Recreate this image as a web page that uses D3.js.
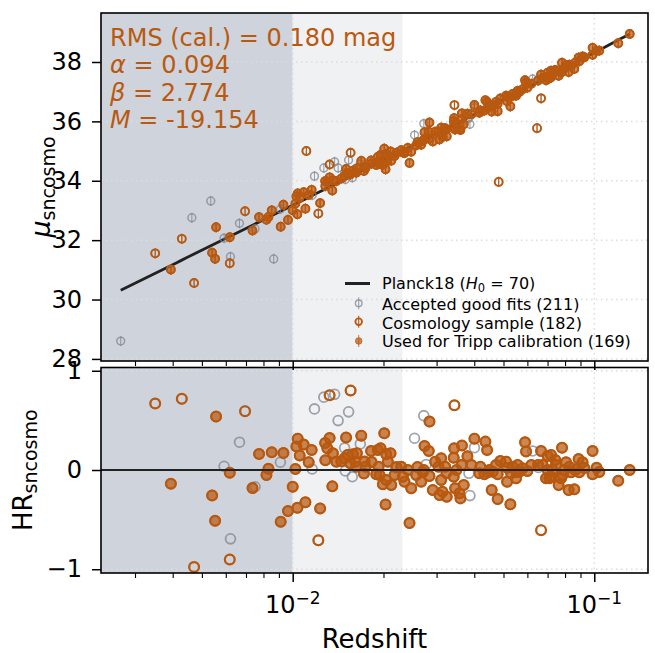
<!DOCTYPE html>
<html><head><meta charset="utf-8">
<script src="https://cdn.jsdelivr.net/npm/d3@7"></script>
<style>
body{margin:0;background:#fff}
svg{display:block}
text{font-family:"DejaVu Sans",sans-serif}
</style>
</head><body>
<svg id="c" width="655" height="653"></svg>
<script>
// ---------------- data ----------------
// SNe used for the Tripp calibration (filled orange)
const trippZ = [
 0.003945,0.005405,0.00553,0.005572,0.006185,0.007357,0.007736,0.008184,0.00831,0.00852,
 0.009125,0.009316,0.009647,0.01,0.010208,0.010286,0.010389,0.010548,0.010365,0.010875,
 0.011019,0.011299,0.012331,0.01281,0.013026,0.013257,0.012829,0.013533,0.013595,0.013951,
 0.014494,0.014863,0.015034,0.015524,0.015835,0.016127,0.016325,0.016251,0.016882,0.01722,
 0.017312,0.017445,0.018193,0.018929,0.019161,0.019264,0.019411,0.01956,0.019906,0.02012,
 0.02032,0.020428,0.020428,0.020679,0.021109,0.021222,0.021763,0.022903,0.023184,0.023487,
 0.024085,0.024399,0.024717,0.025677,0.026673,0.027001,0.027207,0.027353,0.028265,0.028416,
 0.028416,0.029139,0.029677,0.030432,0.031065,0.031065,0.030665,0.031375,0.032027,0.032421,
 0.034302,0.034197,0.034197,0.034565,0.035718,0.035991,0.036405,0.03635,0.036909,0.037965,
 0.040044,0.041918,0.0416,0.043215,0.043545,0.044113,0.044316,0.044893,0.045687,0.046037,
 0.047244,0.047824,0.047824,0.048819,0.051,0.051391,0.051391,0.052697,0.052979,0.05363,
 0.055038,0.055714,0.05644,0.057878,0.058946,0.059396,0.065103,0.066608,0.067426,0.069197,
 0.070045,0.070045,0.07096,0.071886,0.071886,0.072769,0.07468,0.076176,0.077582,0.078176,
 0.078533,0.080595,0.082206,0.083725,0.085855,0.082646,0.088716,0.089191,0.091461,0.098712,
 0.098712,0.10177,0.12007,0.13106,0.092654,0.074282,0.086514,0.061846,0.06,0.039149,
 0.034917,0.032347,0.025933,0.022097,0.018262,0.015207,0.011557,0.055164,0.07956,0.10389
];
const trippHR = [
 -0.138,-0.256,-0.512,0.538,-0.027,-0.182,0.162,-0.051,0.013,0.179,
 -0.522,0.172,-0.414,-0.169,0.010,0.237,0.316,0.146,-0.381,0.256,
 -0.326,0.079,-0.387,0.271,0.219,0.323,0.099,-0.165,0.169,0.084,
 0.089,0.118,0.328,0.068,0.159,0.084,0.169,0.033,0.346,-0.035,
 0.086,0.033,0.192,-0.043,0.202,0.033,-0.051,0.219,-0.144,0.371,
 -0.348,0.159,-0.101,0.084,0.169,-0.152,-0.051,0.033,-0.068,-0.118,
 0.000,-0.535,-0.185,-0.051,-0.118,-0.023,0.000,0.242,0.192,0.488,
 -0.061,-0.202,0.084,0.033,0.118,-0.101,-0.253,-0.219,0.033,-0.270,
 0.219,0.124,-0.068,-0.185,-0.235,-0.286,0.247,0.051,-0.152,0.139,
 0.316,0.033,-0.033,-0.043,0.286,0.202,-0.023,0.000,-0.202,-0.017,
 0.051,-0.043,-0.293,0.091,0.084,0.023,-0.118,-0.346,-0.033,0.033,
 -0.084,0.051,-0.017,0.017,0.280,0.187,0.051,0.192,0.051,-0.084,
 0.141,0.000,-0.084,0.152,-0.068,0.000,0.051,-0.152,-0.084,0.225,
 -0.051,0.078,-0.202,-0.023,-0.195,0.033,0.111,-0.023,0.078,0.192,
 -0.043,0.023,-0.108,0.000,0.020,0.101,0.000,0.051,-0.010,0.051,
 0.000,-0.030,0.030,0.030,0.081,0.152,0.202,-0.020,0.000,-0.020
];
// Cosmology sample SNe not used in the Tripp calibration (hollow orange)
const cosmoOnlyZ  = [0.0035,0.004289,0.006951,0.00471,0.006185,0.012163,0.013257,0.01556,0.034381,0.066608,0.0482,0.0111,0.0646];
const cosmoOnlyHR = [0.670,0.717,0.593,-0.977,-0.902,-0.709,0.753,0.801,0.652,-0.606,-2.69,1.60,-1.54];
// Accepted good fits that are not in the cosmology sample (hollow grey)
const goodOnlyZ = [
 0.005922,0.006218,0.006661,0.007502,0.009104,0.011602,0.011808,0.012683,0.013772,0.014145,
 0.015323,0.014863,0.014944,0.015762,0.016754,0.025348,0.027207,0.027711,0.038697,0.038403,
 0.040044,0.062462,0.065252,0.00269,0.00535,0.00463,0.00865,0.02198,0.08919
];
const goodOnlyHR = [
 0.037,-0.694,0.280,-0.169,0.078,0.010,0.616,0.734,0.763,0.498,
 0.586,0.222,-0.010,-0.068,0.263,0.320,0.548,0.056,-0.258,-0.033,
 0.225,0.192,0.025,-1.71,1.51,1.26,-1.49,0.02,0.04
];
const muErr = 0.17;               // typical distance-modulus uncertainty (mag)
const fitText = ["RMS (cal.) = 0.180 mag", ["α", " = 0.094"], ["β", " = 2.774"], ["M", " = -19.154"]];
const legendLabels = ["Planck18", "Accepted good fits (211)", "Cosmology sample (182)", "Used for Tripp calibration (169)"];
const muTicks = [28, 30, 32, 34, 36, 38];
const hrTicks = [-1, 0, 1];
const zMajor = [0.01, 0.1];
const zMajorLabels = ["−2", "−1"];
const calibRange = [0.01, 0.0231];   // light shaded band

// ---------------- cosmology model (Planck18-like, H0 = 70) ----------------
const H0 = 70, Om = 0.30966, cLight = 299792.458;
function muModel(z) {
  const n = 200, h = z / n; let s = 0;
  for (let i = 0; i <= n; i++) {
    const zz = i * h;
    const f = 1 / Math.sqrt(Om * Math.pow(1 + zz, 3) + (1 - Om));
    s += ((i === 0 || i === n) ? 1 : (i % 2 ? 4 : 2)) * f;
  }
  const dl = (1 + z) * cLight / H0 * (s * h / 3);
  return 5 * Math.log10(dl) + 25;
}

// ---------------- layout ----------------
const ORANGE = "#b9590f", GREY = "#7f8591", INK = "#222";
const L = 101, R = 648, T1 = 13, B1 = 361, T2 = 367.5, B2 = 573;
const svg = d3.select("#c");

const x = d3.scaleLog().domain([0.002314, 0.1507]).range([L, R]);
const y1 = d3.scaleLinear().domain([27.93, 39.65]).range([B1, T1]);
const y2 = d3.scaleLinear().domain([-1.038, 1.033]).range([B2, T2]);

const mk = (zs, hs) => zs.map((z, i) => ({z, hr: hs[i], mu: muModel(z) + hs[i]}));
const tripp = mk(trippZ, trippHR);
const cosmoOnly = mk(cosmoOnlyZ, cosmoOnlyHR);
const goodOnly = mk(goodOnlyZ, goodOnlyHR);
const cosmo = cosmoOnly.concat(tripp);
const good = goodOnly.concat(cosmo);

const defs = svg.append("defs");
defs.append("clipPath").attr("id", "cp1").append("rect").attr("x", L).attr("y", T1).attr("width", R - L).attr("height", B1 - T1);
defs.append("clipPath").attr("id", "cp2").append("rect").attr("x", L).attr("y", T2).attr("width", R - L).attr("height", B2 - T2);

function panelBase(T, B, y, ticks, clip) {
  const g = svg.append("g").attr("clip-path", `url(#${clip})`);
  g.append("rect").attr("x", L).attr("y", T).attr("width", x(0.01) - L).attr("height", B - T).attr("fill", "#cfd3db");
  g.append("rect").attr("x", x(calibRange[0])).attr("y", T).attr("width", x(calibRange[1]) - x(calibRange[0])).attr("height", B - T).attr("fill", "#f0f1f3");
  const gg = g.append("g").attr("stroke", "#dcdcdc").attr("stroke-width", 1.5).attr("stroke-dasharray", "1.5,3.5");
  ticks.forEach(t => gg.append("line").attr("x1", L).attr("x2", R).attr("y1", y(t)).attr("y2", y(t)));
  zMajor.forEach(t => gg.append("line").attr("x1", x(t)).attr("x2", x(t)).attr("y1", T).attr("y2", B));
  return g;
}

// ---------- top panel ----------
const g1 = panelBase(T1, B1, y1, muTicks, "cp1");
const zExt = d3.extent(good, d => d.z);
const curve = d3.range(0, 101).map(i => Math.pow(10, Math.log10(zExt[0]) + i / 100 * (Math.log10(zExt[1]) - Math.log10(zExt[0]))));
g1.append("path").datum(curve)
  .attr("d", d3.line().x(z => x(z)).y(z => y1(muModel(z))))
  .attr("fill", "none").attr("stroke", INK).attr("stroke-width", 2.8);

function errPts(g, data, col, r, sw, fill, op) {
  const s = g.append("g");
  s.selectAll("line").data(data).join("line")
    .attr("x1", d => x(d.z)).attr("x2", d => x(d.z))
    .attr("y1", d => y1(d.mu + muErr)).attr("y2", d => y1(d.mu - muErr))
    .attr("stroke", col).attr("stroke-width", 1.1).attr("opacity", op);
  s.selectAll("circle").data(data).join("circle")
    .attr("cx", d => x(d.z)).attr("cy", d => y1(d.mu)).attr("r", r)
    .attr("fill", fill ? col : "none").attr("fill-opacity", fill ? op : 0)
    .attr("stroke", col).attr("stroke-width", sw).attr("stroke-opacity", op);
}
errPts(g1, good, GREY, 3.9, 1.5, false, 0.75);
errPts(g1, cosmo, ORANGE, 4.0, 1.9, false, 1);
errPts(g1, tripp, ORANGE, 4.1, 1, true, 0.7);

// ---------- bottom panel ----------
const g2 = panelBase(T2, B2, y2, hrTicks, "cp2");
function hrPts(g, data, col, r, sw, fill, op) {
  g.append("g").selectAll("circle").data(data).join("circle")
    .attr("cx", d => x(d.z)).attr("cy", d => y2(d.hr)).attr("r", r)
    .attr("fill", fill ? col : "none").attr("fill-opacity", fill ? op : 0)
    .attr("stroke", col).attr("stroke-width", sw).attr("stroke-opacity", op);
}
hrPts(g2, good, GREY, 4.9, 1.8, false, 0.75);
hrPts(g2, cosmo, ORANGE, 4.9, 2.2, false, 1);
hrPts(g2, tripp, ORANGE, 5.1, 1, true, 0.72);
g2.append("line").attr("x1", L).attr("x2", R).attr("y1", y2(0)).attr("y2", y2(0))
  .attr("stroke", INK).attr("stroke-width", 2);

// ---------- axes ----------
const minor = [];
[0.001, 0.01, 0.1].forEach(b => { for (let k = 2; k <= 9; k++) { const v = b * k; if (v > x.domain()[0] && v < x.domain()[1]) minor.push(v); } });

function styleAxis(g) {
  g.select(".domain").remove();
  g.selectAll(".tick line").attr("stroke", "#000").attr("stroke-width", 1.5);
  g.selectAll(".tick text").attr("fill", "#000").attr("font-size", 24).attr("font-family", "DejaVu Sans");
}
[B1, B2].forEach(B => {
  svg.append("g").attr("transform", `translate(0,${B})`)
    .call(d3.axisBottom(x).tickValues(minor).tickSize(5).tickFormat("")).call(styleAxis)
    .selectAll(".tick line").attr("stroke-width", 1.1);
  svg.append("g").attr("transform", `translate(0,${B})`)
    .call(d3.axisBottom(x).tickValues(zMajor).tickSize(9).tickFormat("")).call(styleAxis);
});
// x tick labels 10^-2, 10^-1
zMajor.forEach((t, i) => {
  const tx = svg.append("text").attr("x", x(t)).attr("y", 612.5).attr("text-anchor", "middle").attr("font-size", 24);
  tx.append("tspan").text("10");
  tx.append("tspan").attr("font-size", 17).attr("dy", -8.5).text(zMajorLabels[i]);
});
svg.append("g").attr("transform", `translate(${L},0)`)
  .call(d3.axisLeft(y1).tickValues(muTicks).tickSize(9).tickPadding(10).tickFormat(d3.format("d"))).call(styleAxis);
svg.append("g").attr("transform", `translate(${L},0)`)
  .call(d3.axisLeft(y2).tickValues(hrTicks).tickSize(9).tickPadding(10).tickFormat(d => d < 0 ? "−" + Math.abs(d) : String(d))).call(styleAxis);

// frames
[[T1, B1], [T2, B2]].forEach(([T, B]) => svg.append("rect").attr("x", L).attr("y", T).attr("width", R - L).attr("height", B - T)
  .attr("fill", "none").attr("stroke", "#000").attr("stroke-width", 1.6));

// axis labels
svg.append("text").attr("x", (L + R) / 2).attr("y", 648).attr("text-anchor", "middle").attr("font-size", 26).text("Redshift");
const yl1 = svg.append("text").attr("transform", `translate(50,${(T1 + B1) / 2}) rotate(-90)`).attr("text-anchor", "middle").attr("font-size", 27);
yl1.append("tspan").attr("font-style", "italic").text("μ");
yl1.append("tspan").attr("font-size", 19).attr("dy", 5).text("sncosmo");
const yl2 = svg.append("text").attr("transform", `translate(32,${(T2 + B2) / 2}) rotate(-90)`).attr("text-anchor", "middle").attr("font-size", 26);
yl2.append("tspan").text("HR");
yl2.append("tspan").attr("font-size", 19).attr("dy", 5).text("sncosmo");

// fit summary text
const base = [46, 73, 100.5, 128];
fitText.forEach((t, i) => {
  const tx = svg.append("text").attr("x", 110).attr("y", base[i]).attr("font-size", 24).attr("fill", ORANGE);
  if (typeof t === "string") tx.text(t);
  else { tx.append("tspan").attr("font-style", "italic").text(t[0]); tx.append("tspan").text(t[1]); }
});

// legend
const lg = svg.append("g");
const lx = 358.7, tx0 = 382;
lg.append("line").attr("x1", 345).attr("x2", 370).attr("y1", 283.5).attr("y2", 283.5).attr("stroke", INK).attr("stroke-width", 3);
const lt0 = lg.append("text").attr("x", tx0).attr("y", 289.3).attr("font-size", 16);
lt0.append("tspan").text(legendLabels[0] + " (");
lt0.append("tspan").attr("font-style", "italic").text("H");
lt0.append("tspan").attr("font-size", 11.5).attr("dy", 3).text("0");
lt0.append("tspan").attr("dy", -3).text(" = 70)");
const legMk = [[303.3, GREY, false, 0.75, 1.4], [321.7, ORANGE, false, 1, 1.8], [341, ORANGE, true, 0.7, 1]];
legMk.forEach(([cy, col, fill, op, sw], i) => {
  lg.append("line").attr("x1", lx).attr("x2", lx).attr("y1", cy - 6).attr("y2", cy + 6).attr("stroke", col).attr("stroke-width", 1.1).attr("opacity", op);
  lg.append("circle").attr("cx", lx).attr("cy", cy).attr("r", 3.3)
    .attr("fill", fill ? col : "none").attr("fill-opacity", fill ? op : 0)
    .attr("stroke", col).attr("stroke-width", sw).attr("stroke-opacity", op);
  lg.append("text").attr("x", tx0).attr("y", [310.3, 329, 347][i]).attr("font-size", 16).text(legendLabels[i + 1]);
});
</script>
</body></html>
